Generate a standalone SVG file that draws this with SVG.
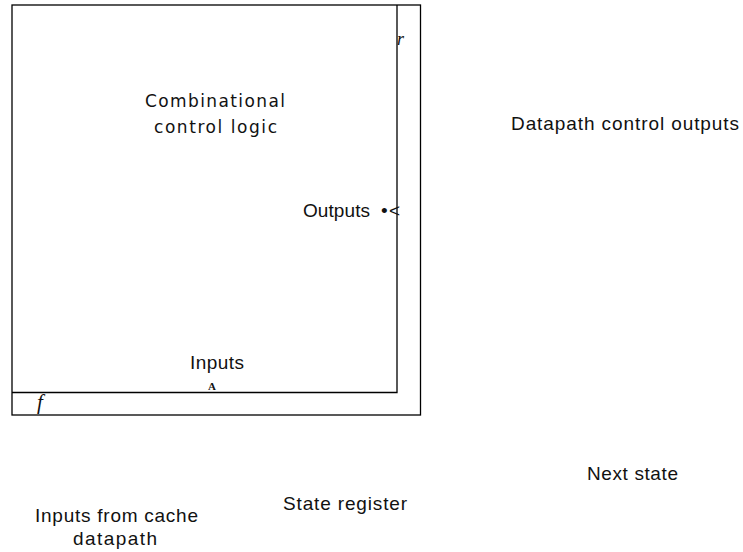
<svg xmlns="http://www.w3.org/2000/svg" width="743" height="552" viewBox="0 0 743 552">
<style>
.ln{stroke:#000;stroke-width:1.3;fill:none}
.lbl{font-family:"Liberation Sans",Arial,sans-serif;font-size:19px;fill:#111}
.logic{font-family:"DejaVu Sans",sans-serif;font-size:17px;fill:#111}
.it{font-family:"Liberation Serif","Times New Roman",serif;font-style:italic;fill:#111}
</style>
<rect width="743" height="552" fill="#fff"/>
<g id="state-register">
<rect class="ln" x="12" y="5" width="408.5" height="410"/>
</g>
<g id="combinational-logic">
<path class="ln" d="M397,5 V392.5 H12"/>
<text class="logic" x="145" y="107" textLength="140">Combinational</text>
<text class="logic" x="154" y="133" textLength="123">control logic</text>
</g>
<g id="connectors">
<text class="it" x="397" y="45" font-size="18">r</text>
<text class="it" x="37" y="409" font-size="21">f</text>
</g>
<g id="labels">
<text class="lbl" x="303" y="217" textLength="67">Outputs</text>
<text class="lbl" x="381" y="217">•</text>
<text class="lbl" x="389" y="217">&lt;</text>
<text class="lbl" x="190" y="369" textLength="54">Inputs</text>
<text x="212" y="390" font-family="Liberation Serif,serif" font-weight="bold" font-size="11" text-anchor="middle" fill="#111">A</text>
<text class="lbl" x="511" y="130" textLength="228">Datapath control outputs</text>
<text class="lbl" x="587" y="480" textLength="91">Next state</text>
<text class="lbl" x="283" y="510" textLength="124">State register</text>
<text class="lbl" x="35" y="522" textLength="163">Inputs from cache</text>
<text class="lbl" x="73" y="545" textLength="84">datapath</text>
</g>
</svg>
